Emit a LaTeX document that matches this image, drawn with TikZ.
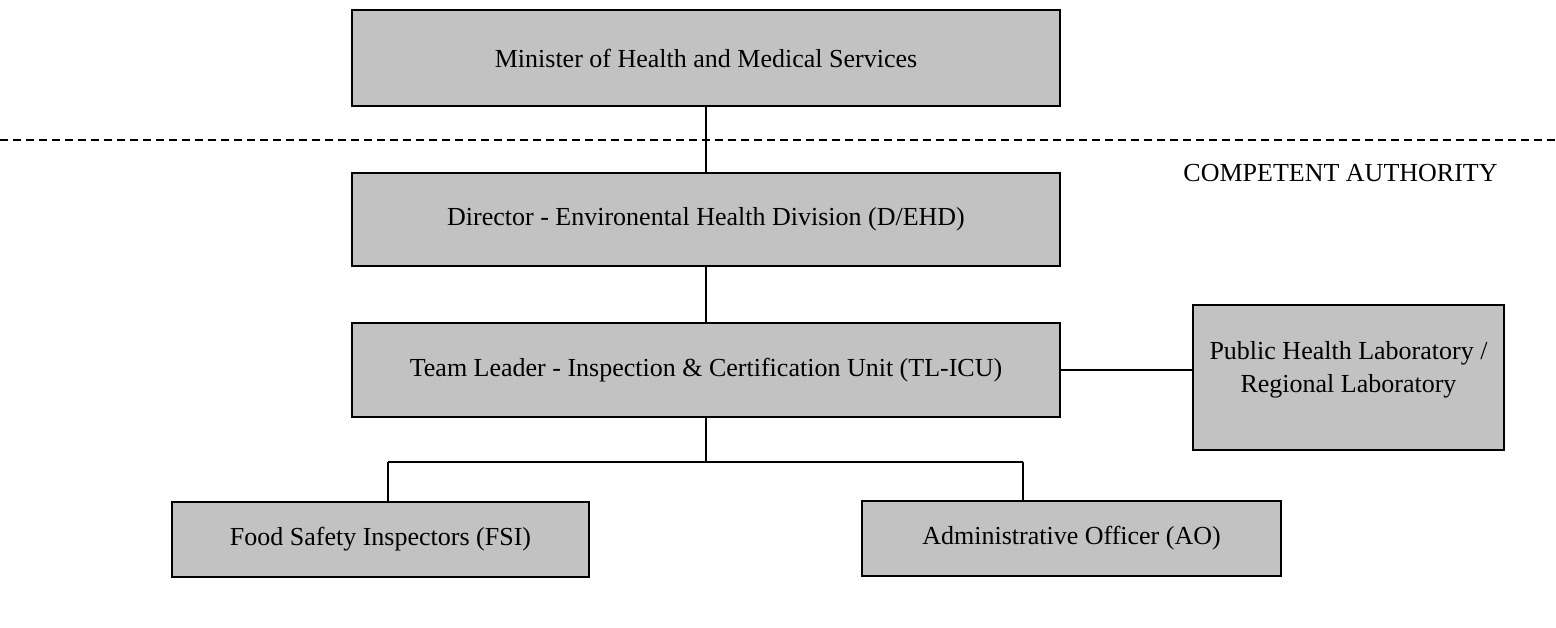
\documentclass[tikz,border=0pt]{standalone}
\usepackage{fontspec}
\setmainfont{Liberation Serif}
\begin{document}
\begin{tikzpicture}[x=0.5pt,y=-0.5pt,
  orgbox/.style={draw=black, line width=1pt, fill=black!24, inner sep=0pt, font=\fontsize{13pt}{16.5pt}\selectfont, align=center},
  link/.style={draw=black, line width=0.9pt},
  divider/.style={draw=black, line width=0.8pt, dash pattern=on 4pt off 2.5pt}]
\useasboundingbox (0,0) rectangle (1556,627);
\node[orgbox, minimum width=354pt, minimum height=48pt] (min) at (706,58) {Minister of Health and Medical Services};
\node[orgbox, minimum width=354pt, minimum height=46.5pt] (dir) at (706,219.5) {Director - Environental Health Division (D/EHD)};
\node[orgbox, minimum width=354pt, minimum height=47pt] (tl) at (706,370) {Team Leader - Inspection \& Certification Unit (TL-ICU)};
\node[orgbox, minimum width=155.5pt, minimum height=72.5pt, text depth=10.5pt] (lab) at (1348.5,377.5) {Public Health Laboratory /\\Regional Laboratory};
\node[orgbox, minimum width=208.5pt, minimum height=37.5pt] (fsi) at (380.5,539.5) {Food Safety Inspectors (FSI)};
\node[orgbox, minimum width=209.5pt, minimum height=37.5pt] (ao) at (1071.5,538.5) {Administrative Officer (AO)};
\node[font=\fontsize{13pt}{16pt}\selectfont, inner sep=0pt, anchor=east] (ca) at (1498,173) {COMPETENT AUTHORITY};
\coordinate (dl) at (0,140);
\coordinate (dr) at (1556,140);
\draw[divider] (dl) -- (dr);
\coordinate (j) at (706,462);
\coordinate (jl) at (388,462);
\coordinate (jr) at (1023,462);
\draw[link] (min.south) -- (dir.north);
\draw[link] (dir.south) -- (tl.north);
\draw[link] (tl.south) -- (j);
\draw[link] (jl) -- (jr);
\draw[link] (jl) -- (jl |- fsi.north);
\draw[link] (jr) -- (jr |- ao.north);
\draw[link] (tl.east) -- (tl.east -| lab.west);
\end{tikzpicture}
\end{document}
